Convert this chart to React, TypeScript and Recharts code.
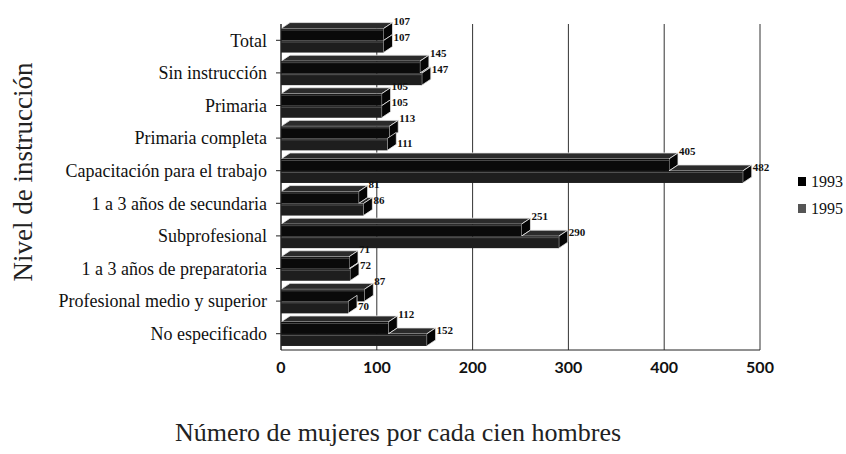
import React from 'react';
import {
  BarChart,
  Bar,
  XAxis,
  YAxis,
  CartesianGrid,
  Legend,
  LabelList
} from 'recharts';

const categories = [
  'Total',
  'Sin instrucción',
  'Primaria',
  'Primaria completa',
  'Capacitación para el trabajo',
  '1 a 3 años de secundaria',
  'Subprofesional',
  '1 a 3 años de preparatoria',
  'Profesional medio y superior',
  'No especificado'
];
const values1993 = [107, 145, 105, 113, 405, 81, 251, 71, 87, 112];
const values1995 = [107, 147, 105, 111, 482, 86, 290, 72, 70, 152];
const xTicks = [0, 100, 200, 300, 400, 500];

const data = categories.map((name, i) => ({
  name,
  y1993: values1993[i],
  y1995: values1995[i]
}));

const DX = 9;
const DY = 6;
const SERIF = '"Liberation Serif", "DejaVu Serif", serif';

// 3D bar: front face + top face + end face
const Bar3D = (props: any) => {
  const { x, y, width, height, fill, payload, hideTop } = props;
  if (!width || width <= 0) return null;
  let topStart = x;
  if (hideTop && payload) {
    // top face of the lower bar sits behind the upper bar's front
    topStart = x + (width * payload.y1993) / payload.y1995;
  }
  return (
    <g>
      {topStart < x + width && (
        <path
          d={`M${topStart},${y} L${topStart + DX},${y - DY} L${x + width + DX},${y - DY} L${x + width},${y} Z`}
          fill="#2b2b2b"
          stroke="#e8e8e8"
          strokeWidth={0.8}
        />
      )}
      <path
        d={`M${x + width},${y} L${x + width + DX},${y - DY} L${x + width + DX},${y + height - DY} L${x + width},${y + height} Z`}
        fill="#050505"
        stroke="#e8e8e8"
        strokeWidth={0.8}
      />
      <rect x={x} y={y} width={width} height={height} fill={fill} />
      <line x1={x} y1={y + 1.5} x2={x + width} y2={y + 1.5} stroke="#777" strokeWidth={0.6} />
    </g>
  );
};

const ValueLabel1993 = (props: any) => {
  const { x, y, width, value } = props;
  return (
    <text x={x + width + DX + 1} y={y - DY + 2} fontFamily={SERIF} fontSize={11} fontWeight="bold" fill="#111">
      {value}
    </text>
  );
};

const ValueLabel1995 = (props: any) => {
  const { x, y, width, height, value, index } = props;
  // when the upper bar is longer, drop the label so it stays clear of it
  const shorter = values1993[index] > value;
  const ty = shorter ? y + height / 2 + 3 : y - DY + 6;
  return (
    <text x={x + width + DX + 1} y={ty} fontFamily={SERIF} fontSize={11} fontWeight="bold" fill="#111">
      {value}
    </text>
  );
};

const YTitle = () => {
  const cx = 23;
  const cy = 172;
  return (
    <text
      x={cx}
      y={cy}
      transform={`rotate(-90 ${cx} ${cy})`}
      textAnchor="middle"
      dominantBaseline="central"
      fontFamily={SERIF}
      fontSize={27}
      fill="#222"
    >
      Nivel de instrucción
    </text>
  );
};

const XTitle = () => (
  <text
    x={398}
    y={441}
    textAnchor="middle"
    fontFamily={SERIF}
    fontSize={26}
    fill="#222"
  >
    Número de mujeres por cada cien hombres
  </text>
);

const LegendBox = () => (
  <div style={{ fontFamily: SERIF, fontSize: 16, color: '#111', lineHeight: '27px' }}>
    {[
      { label: '1993', color: '#000' },
      { label: '1995', color: '#555' }
    ].map((item) => (
      <div key={item.label} style={{ display: 'flex', alignItems: 'center' }}>
        <span
          style={{
            display: 'inline-block',
            width: 8,
            height: 9,
            background: item.color,
            marginRight: 5
          }}
        />
        {item.label}
      </div>
    ))}
  </div>
);

export default function App() {
  return (
    <div style={{ position: 'absolute', left: 0, top: 0, background: '#fff' }}>
      <BarChart
        width={846}
        height={454}
        data={data}
        layout="vertical"
        margin={{ top: 24, right: 86, bottom: 0, left: 0 }}
        barCategoryGap="14%"
        barGap={0}
      >
        <CartesianGrid horizontal={false} stroke="#333" strokeWidth={1} />
        <XAxis
          type="number"
          domain={[0, 500]}
          ticks={xTicks}
          height={104}
          tickLine={false}
          axisLine={{ stroke: '#222' }}
          tickMargin={6}
          tick={{ fontFamily: 'Lato, sans-serif', fontWeight: 'bold', fontSize: 16, fill: '#111' }}
          label={<XTitle />}
        />
        <YAxis
          type="category"
          dataKey="name"
          width={281}
          axisLine={{ stroke: '#222' }}
          tickLine={{ stroke: '#222' }}
          tickSize={5}
          tickMargin={9}
          tick={{ fontFamily: SERIF, fontSize: 18, fill: '#111' }}
          label={<YTitle />}
        />
        <Legend
          layout="vertical"
          verticalAlign="middle"
          align="center"
          content={<LegendBox />}
          wrapperStyle={{ left: 798, top: 168, width: 48 }}
        />
        <Bar
          dataKey="y1993"
          name="1993"
          fill="#0a0a0a"
          shape={<Bar3D />}
          isAnimationActive={false}
        >
          <LabelList dataKey="y1993" content={<ValueLabel1993 />} />
        </Bar>
        <Bar
          dataKey="y1995"
          name="1995"
          fill="#1e1e1e"
          shape={<Bar3D hideTop />}
          isAnimationActive={false}
        >
          <LabelList dataKey="y1995" content={<ValueLabel1995 />} />
        </Bar>
      </BarChart>
    </div>
  );
}
